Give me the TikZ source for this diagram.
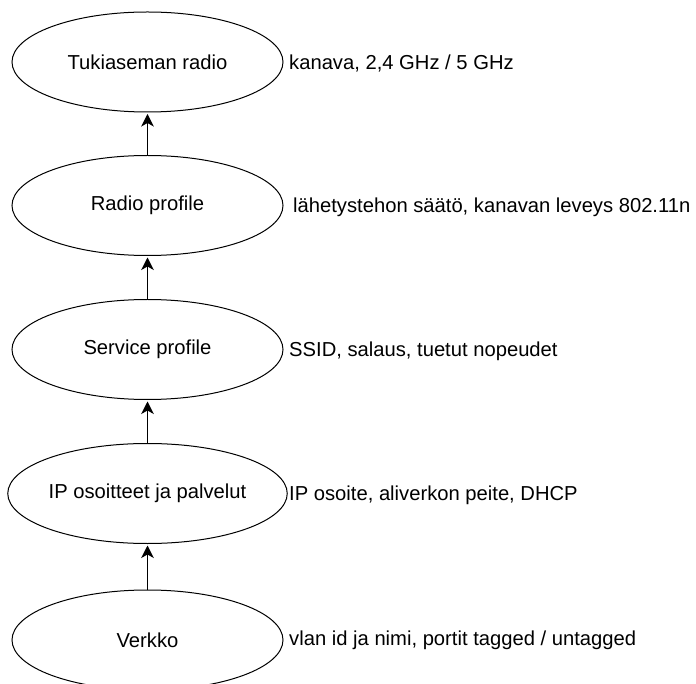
\documentclass[tikz,border=0pt]{standalone}
\usepackage{fontspec}
\setmainfont{Liberation Sans}
\usetikzlibrary{arrows.meta,shapes.geometric}
\begin{document}
\begin{tikzpicture}[x=1pt,y=-1pt,
  layer/.style={draw=black, line width=1pt, ellipse, minimum width=271pt, minimum height=100pt, inner sep=0pt, font=\fontsize{20.2pt}{24pt}\selectfont},
  note/.style={anchor=west, inner sep=0pt, font=\fontsize{20.2pt}{24pt}\selectfont},
  link/.style={line width=1.2pt, -{Stealth[length=12.5pt, width=12.5pt, inset=3.5pt]}, shorten >=1.5pt}
]
\useasboundingbox (0,0) rectangle (696,684);

\node[layer] (radio)   at (147.5,62)  {Tukiaseman radio};
\node[layer] (rprof)   at (147.5,205.5) {Radio profile};
\node[layer] (sprof)   at (147.5,349.5) {Service profile};
\node[layer] (ip)      at (147.5,493.5) {IP osoitteet ja palvelut};
\node[layer] (verkko)  at (147.5,640) {Verkko};

\node[note] (nradio)  at (289,63)  {kanava, 2,4 GHz / 5 GHz};
\node[note] (nrprof)  at (293,207) {lähetystehon säätö, kanavan leveys 802.11n};
\node[note] (nsprof)  at (289,351) {SSID, salaus, tuetut nopeudet};
\node[note] (nip)     at (289,495) {IP osoite, aliverkon peite, DHCP};
\node[note] (nverkko) at (289,640) {vlan id ja nimi, portit tagged / untagged};

\draw[link] (rprof.north) -- (radio.south);
\draw[link] (sprof.north) -- (rprof.south);
\draw[link] (ip.north) -- (sprof.south);
\draw[link] (verkko.north) -- (ip.south);
\end{tikzpicture}
\end{document}
